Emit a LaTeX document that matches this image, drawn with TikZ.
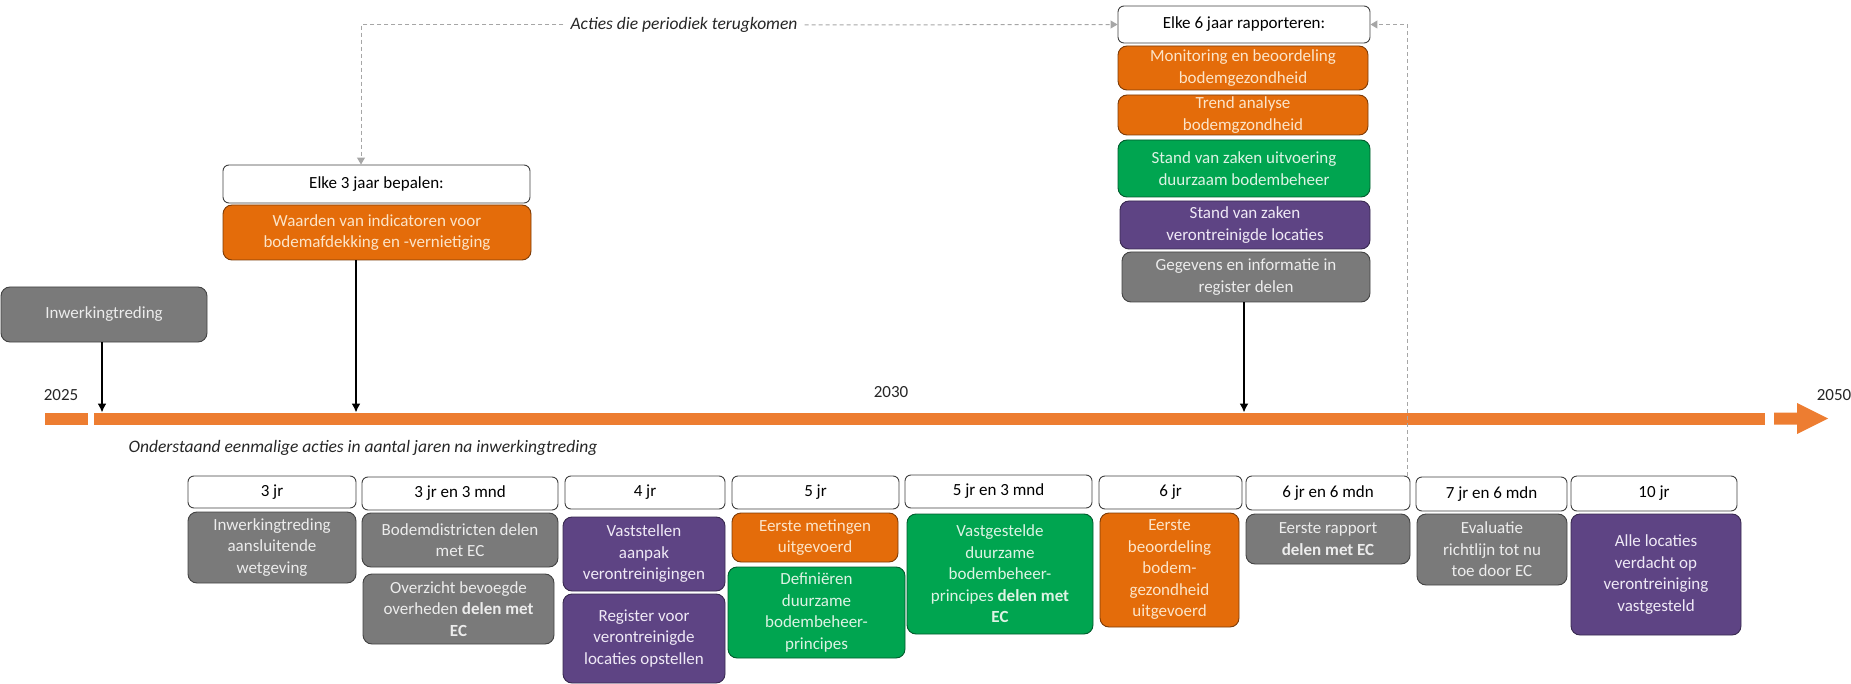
\documentclass[tikz,border=0pt]{standalone}
\usepackage{fontspec}
\setmainfont{Carlito}
\usetikzlibrary{arrows.meta}
\definecolor{cOrange}{HTML}{E46C0A}
\definecolor{cBar}{HTML}{ED7D31}
\definecolor{cGreen}{HTML}{00A550}
\definecolor{cPurple}{HTML}{5E4484}
\definecolor{cGrey}{HTML}{7A7A7A}
\definecolor{cHdr}{HTML}{404040}
\definecolor{cDash}{HTML}{A6A6A6}
\definecolor{tOrange}{HTML}{FCE4C8}
\definecolor{tGreen}{HTML}{DDF3E4}
\definecolor{tGrey}{HTML}{ECECEC}
\definecolor{tPurple}{HTML}{EFE9F6}
\definecolor{tLabel}{HTML}{262626}
\newcommand\tlbox[7]{\node[#2, minimum width={(#5)-(#3)}, minimum height={(#6)-(#4)}] (#1) at ({((#3)+(#5))/2},{((#4)+(#6))/2}) {#7};}
\tikzset{
  base/.style={rounded corners=9pt, line width=0.9pt, inner sep=1pt, align=center,
    font=\fontsize{17}{21.5}\selectfont},
  hdr/.style={base, rounded corners=6pt, fill=white, draw=cHdr, text=black},
  obox/.style={base, fill=cOrange, draw=cOrange!55!black, text=tOrange},
  grbox/.style={base, fill=cGreen, draw=cGreen!55!black, text=tGreen},
  pbox/.style={base, fill=cPurple, draw=cPurple!60!black, text=tPurple},
  gbox/.style={base, fill=cGrey, draw=cGrey!55!black, text=tGrey},
  lbl/.style={inner sep=0pt, text=tLabel, font=\fontsize{17}{20}\selectfont},
  note/.style={inner sep=0pt, text=tLabel, font=\fontsize{17.5}{20}\selectfont\itshape},
  conn/.style={line width=1.6pt, black, -{Latex[width=9pt,length=9pt]}},
  dconn/.style={line width=1pt, cDash, dash pattern=on 4pt off 3pt, -{Triangle[width=8pt,length=7pt]}},
}
\begin{document}
\begin{tikzpicture}[x=1pt,y=-1pt]
\useasboundingbox (0,0) rectangle (1851,684);

% timeline bar
\fill[cBar] (45,412.5) rectangle (88,424.5);
\node[fill=cBar, inner sep=0pt, minimum width=1671, minimum height=12] (bar) at (929.5,418.5) {};
\fill[cBar] (1774,412.5) -- (1797,412.5) -- (1797,403) -- (1828,418.5) -- (1797,434) -- (1797,424.5) -- (1774,424.5) -- cycle;
\coordinate (t1) at (102,412.5);
\coordinate (t2) at (356,412.5);
\coordinate (t3) at (1244,412.5);

\node[lbl] (y2025) at (61,395) {2025};
\node[lbl] (y2030) at (891,392) {2030};
\node[lbl] (y2050) at (1834,395) {2050};

% top left
\tlbox{inw}{gbox}{1}{287}{207}{342}{Inwerkingtreding}
\tlbox{h3}{hdr}{223}{165}{530}{203}{Elke 3 jaar bepalen:}
\tlbox{w3}{obox}{223}{205}{531}{260}{Waarden van indicatoren voor\\bodemafdekking en -vernietiging}

% top right stack
\tlbox{h6}{hdr}{1118}{6}{1370}{43}{Elke 6 jaar rapporteren:}
\tlbox{mon}{obox}{1118}{46}{1368}{90}{Monitoring en beoordeling\\bodemgezondheid}
\tlbox{trend}{obox}{1118}{95}{1368}{135}{Trend analyse\\bodemgzondheid}
\tlbox{sgreen}{grbox}{1118}{140}{1370}{197}{Stand van zaken uitvoering\\duurzaam bodembeheer}
\tlbox{spurp}{pbox}{1120}{201}{1370}{249}{Stand van zaken\\verontreinigde locaties}
\tlbox{geg}{gbox}{1122}{252}{1370}{302}{Gegevens en informatie in\\register delen}

% periodic note
\node[note, inner xsep=7pt] (acties) at (684,25) {Acties die periodiek terugkomen};
\node[note] (onder) at (363,448) {Onderstaand eenmalige acties in aantal jaren na inwerkingtreding};

% header row
\tlbox{k1}{hdr}{188}{476}{356}{508}{3 jr}
\tlbox{k2}{hdr}{362}{477}{558}{510}{3 jr en 3 mnd}
\tlbox{k3}{hdr}{565}{476}{725}{509}{4 jr}
\tlbox{k4}{hdr}{732}{476}{899}{509}{5 jr}
\tlbox{k5}{hdr}{905}{475}{1092}{508}{5 jr en 3 mnd}
\tlbox{k6}{hdr}{1099}{476}{1242}{509}{6 jr}
\tlbox{k7}{hdr}{1246}{476}{1410}{510}{6 jr en 6 mdn}
\tlbox{k8}{hdr}{1416}{477}{1567}{511}{7 jr en 6 mdn}
\tlbox{k9}{hdr}{1571}{476}{1737}{511}{10 jr}

% one-off actions
\tlbox{a1}{gbox}{188}{512}{356}{583}{Inwerkingtreding\\aansluitende\\wetgeving}
\tlbox{a2}{gbox}{362}{513}{558}{567}{Bodemdistricten delen\\met EC}
\tlbox{a3}{gbox}{363}{574}{554}{644}{Overzicht bevoegde\\overheden \textbf{delen met}\\\textbf{EC}}
\tlbox{a4}{pbox}{563}{517}{725}{591}{Vaststellen\\aanpak\\verontreinigingen}
\tlbox{a5}{pbox}{563}{594}{725}{683}{Register voor\\verontreinigde\\locaties opstellen}
\tlbox{a6}{obox}{732}{513}{898}{562}{Eerste metingen\\uitgevoerd}
\tlbox{a7}{grbox}{728}{567}{905}{658}{Definiëren\\duurzame\\bodembeheer-\\principes}
\tlbox{a8}{grbox}{907}{514}{1093}{634}{Vastgestelde\\duurzame\\bodembeheer-\\principes \textbf{delen met}\\\textbf{EC}}
\tlbox{a9}{obox}{1100}{513}{1239}{627}{Eerste\\beoordeling\\bodem-\\gezondheid\\uitgevoerd}
\tlbox{a10}{gbox}{1246}{514}{1410}{564}{Eerste rapport\\\textbf{delen met EC}}
\tlbox{a11}{gbox}{1417}{514}{1567}{585}{Evaluatie\\richtlijn tot nu\\toe door EC}
\tlbox{a12}{pbox}{1571}{514}{1741}{635}{Alle locaties\\verdacht op\\verontreiniging\\vastgesteld}

% connectors to the timeline
\draw[conn] (inw.south -| t1) -- (t1);
\draw[conn] (w3.south -| t2) -- (t2);
\draw[conn] (geg.south -| t3) -- (t3);

% dashed periodic connectors
\draw[dconn] (acties.west) -| (h3.north -| 361,0);
\draw[dconn] (acties.east) -- (h6.west);
\draw[dconn] ([xshift=-3pt]k7.north east) |- (h6.east);
\end{tikzpicture}
\end{document}
